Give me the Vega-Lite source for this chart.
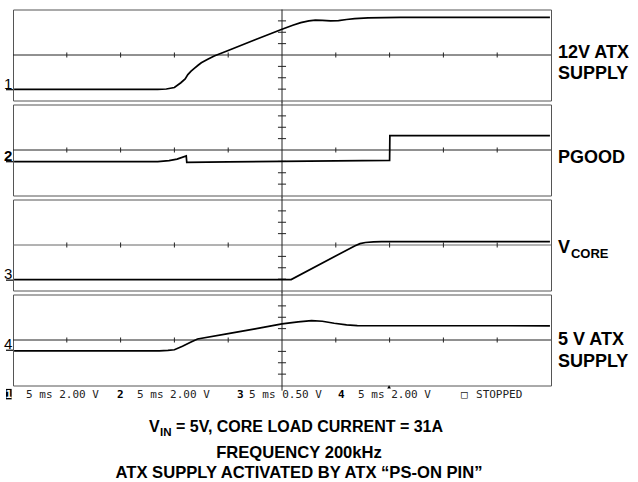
{
  "$schema": "https://vega.github.io/schema/vega-lite/v6.json",
  "padding": {"left": 3, "top": 8.5, "right": 0, "bottom": 0},
  "background": "#ffffff",
  "bounds": "flush",
  "spacing": 4,
  "config": {"view": {"stroke": "#555555", "strokeWidth": 1}},
  "datasets": {
    "xticks": [{"t": -4}, {"t": -3}, {"t": -2}, {"t": -1}, {"t": 1}, {"t": 2}, {"t": 3}, {"t": 4}],
    "yticks": [{"v": -3}, {"v": -2}, {"v": -1}, {"v": 1}, {"v": 2}, {"v": 3}],
    "markers": [
      {"ch": 1, "label": "1", "ground": -3.05},
      {"ch": 2, "label": "2", "ground": -1.03},
      {"ch": 3, "label": "3", "ground": -3.09},
      {"ch": 4, "label": "4", "ground": -0.9}
    ],
    "trace": [
      {"ch": 1, "t": -4.98, "v": -3.03}, {"ch": 1, "t": -2.31, "v": -3.03}, {"ch": 1, "t": -2.15, "v": -2.99},
      {"ch": 1, "t": -2.0, "v": -2.86}, {"ch": 1, "t": -1.88, "v": -2.44}, {"ch": 1, "t": -1.8, "v": -2.1},
      {"ch": 1, "t": -1.75, "v": -1.72}, {"ch": 1, "t": -1.69, "v": -1.42}, {"ch": 1, "t": -1.63, "v": -1.17},
      {"ch": 1, "t": -1.56, "v": -0.9}, {"ch": 1, "t": -1.5, "v": -0.68}, {"ch": 1, "t": -1.38, "v": -0.38},
      {"ch": 1, "t": -1.26, "v": -0.09}, {"ch": 1, "t": -1.0, "v": 0.4}, {"ch": 1, "t": -0.5, "v": 1.34},
      {"ch": 1, "t": 0.0, "v": 2.27}, {"ch": 1, "t": 0.2, "v": 2.62}, {"ch": 1, "t": 0.35, "v": 2.85},
      {"ch": 1, "t": 0.5, "v": 3.0}, {"ch": 1, "t": 0.62, "v": 3.07}, {"ch": 1, "t": 0.75, "v": 3.05},
      {"ch": 1, "t": 0.9, "v": 3.0}, {"ch": 1, "t": 1.05, "v": 3.02}, {"ch": 1, "t": 1.2, "v": 3.12},
      {"ch": 1, "t": 1.35, "v": 3.2}, {"ch": 1, "t": 1.6, "v": 3.27}, {"ch": 1, "t": 2.2, "v": 3.3},
      {"ch": 1, "t": 4.98, "v": 3.3},
      {"ch": 2, "t": -4.98, "v": -1.03}, {"ch": 2, "t": -2.31, "v": -1.03}, {"ch": 2, "t": -2.1, "v": -0.93},
      {"ch": 2, "t": -1.95, "v": -0.8}, {"ch": 2, "t": -1.78, "v": -0.52}, {"ch": 2, "t": -1.77, "v": -1.08},
      {"ch": 2, "t": -1.0, "v": -1.04}, {"ch": 2, "t": 0.0, "v": -1.0}, {"ch": 2, "t": 1.0, "v": -0.96},
      {"ch": 2, "t": 2.0, "v": -0.92}, {"ch": 2, "t": 2.005, "v": 1.26}, {"ch": 2, "t": 4.98, "v": 1.26},
      {"ch": 3, "t": -4.98, "v": -3.04}, {"ch": 3, "t": 0.17, "v": -3.04}, {"ch": 3, "t": 1.35, "v": -0.08},
      {"ch": 3, "t": 1.45, "v": 0.12}, {"ch": 3, "t": 1.55, "v": 0.22}, {"ch": 3, "t": 1.7, "v": 0.27},
      {"ch": 3, "t": 1.85, "v": 0.3}, {"ch": 3, "t": 4.98, "v": 0.3},
      {"ch": 4, "t": -4.98, "v": -0.95}, {"ch": 4, "t": -2.28, "v": -0.95}, {"ch": 4, "t": -2.12, "v": -0.92},
      {"ch": 4, "t": -2.0, "v": -0.86}, {"ch": 4, "t": -1.85, "v": -0.55}, {"ch": 4, "t": -1.7, "v": -0.2},
      {"ch": 4, "t": -1.57, "v": 0.09}, {"ch": 4, "t": -1.0, "v": 0.56}, {"ch": 4, "t": -0.5, "v": 0.98},
      {"ch": 4, "t": 0.0, "v": 1.41}, {"ch": 4, "t": 0.3, "v": 1.6}, {"ch": 4, "t": 0.55, "v": 1.7},
      {"ch": 4, "t": 0.75, "v": 1.65}, {"ch": 4, "t": 0.97, "v": 1.47}, {"ch": 4, "t": 1.2, "v": 1.33},
      {"ch": 4, "t": 1.4, "v": 1.26}, {"ch": 4, "t": 4.98, "v": 1.25}
    ]
  },
  "vconcat": [
    {
      "width": 538, "height": 91,
      "layer": [
        {"data": {"values": [{}]}, "mark": {"type": "rule", "color": "#222222", "strokeWidth": 1},
         "encoding": {"x": {"datum": -5, "type": "quantitative", "scale": {"domain": [-5, 5], "nice": false}, "axis": null}, "x2": {"datum": 5},
                      "y": {"datum": 0, "type": "quantitative", "scale": {"domain": [-4, 4], "nice": false}, "axis": null}}},
        {"data": {"values": [{}]}, "mark": {"type": "rule", "color": "#222222", "strokeWidth": 1},
         "encoding": {"x": {"datum": 0, "type": "quantitative", "scale": {"domain": [-5, 5], "nice": false}, "axis": null},
                      "y": {"datum": -4.2, "type": "quantitative", "scale": {"domain": [-4, 4], "nice": false}, "axis": null}, "y2": {"datum": 4}}},
        {"data": {"name": "xticks"}, "mark": {"type": "rule", "color": "#222222", "strokeWidth": 1},
         "encoding": {"x": {"field": "t", "type": "quantitative", "scale": {"domain": [-5, 5], "nice": false}, "axis": null},
                      "y": {"datum": -0.22, "type": "quantitative", "scale": {"domain": [-4, 4], "nice": false}, "axis": null}, "y2": {"datum": 0.22}}},
        {"data": {"name": "yticks"}, "mark": {"type": "rule", "color": "#222222", "strokeWidth": 1},
         "encoding": {"y": {"field": "v", "type": "quantitative", "scale": {"domain": [-4, 4], "nice": false}, "axis": null},
                      "x": {"datum": -0.075, "type": "quantitative", "scale": {"domain": [-5, 5], "nice": false}, "axis": null}, "x2": {"datum": 0.075}}},
        {"data": {"name": "trace"}, "transform": [{"filter": "datum.ch == 1"}], "mark": {"type": "line", "color": "#000000", "strokeWidth": 1.7},
         "encoding": {"x": {"field": "t", "type": "quantitative", "scale": {"domain": [-5, 5], "nice": false}, "axis": null},
                      "y": {"field": "v", "type": "quantitative", "scale": {"domain": [-4, 4], "nice": false}, "axis": null}}},
        {"data": {"name": "markers"}, "transform": [{"filter": "datum.ch == 1"}], "mark": {"type": "rule", "color": "#000000", "strokeWidth": 1.2},
         "encoding": {"x": {"datum": -5.13, "type": "quantitative", "scale": {"domain": [-5, 5], "nice": false}, "axis": null}, "x2": {"datum": -5},
                      "y": {"field": "ground", "type": "quantitative", "scale": {"domain": [-4, 4], "nice": false}, "axis": null}}},
        {"data": {"name": "markers"}, "transform": [{"filter": "datum.ch == 1"}], "mark": {"type": "text", "align": "right", "baseline": "alphabetic", "dy": -1, "font": "Liberation Sans", "fontSize": 15, "color": "#000000"},
         "encoding": {"x": {"datum": -5.01, "type": "quantitative", "scale": {"domain": [-5, 5], "nice": false}, "axis": null},
                      "y": {"field": "ground", "type": "quantitative", "scale": {"domain": [-4, 4], "nice": false}, "axis": null}, "text": {"field": "label"}}},
        {"data": {"values": [{"label": "12V ATX|SUPPLY"}]}, "mark": {"type": "text", "align": "left", "baseline": "alphabetic", "font": "Liberation Sans", "fontWeight": "bold", "fontSize": 18, "lineBreak": "|", "lineHeight": 21, "color": "#000000"},
         "encoding": {"x": {"datum": 5.13, "type": "quantitative", "scale": {"domain": [-5, 5], "nice": false}, "axis": null},
                      "y": {"datum": -0.22, "type": "quantitative", "scale": {"domain": [-4, 4], "nice": false}, "axis": null}, "text": {"field": "label"}}}
      ]
    },
    {
      "width": 538, "height": 91,
      "layer": [
        {"data": {"values": [{}]}, "mark": {"type": "rule", "color": "#222222", "strokeWidth": 1},
         "encoding": {"x": {"datum": -5, "type": "quantitative", "scale": {"domain": [-5, 5], "nice": false}, "axis": null}, "x2": {"datum": 5},
                      "y": {"datum": 0, "type": "quantitative", "scale": {"domain": [-4, 4], "nice": false}, "axis": null}}},
        {"data": {"values": [{}]}, "mark": {"type": "rule", "color": "#222222", "strokeWidth": 1},
         "encoding": {"x": {"datum": 0, "type": "quantitative", "scale": {"domain": [-5, 5], "nice": false}, "axis": null},
                      "y": {"datum": -4.2, "type": "quantitative", "scale": {"domain": [-4, 4], "nice": false}, "axis": null}, "y2": {"datum": 4.2}}},
        {"data": {"name": "xticks"}, "mark": {"type": "rule", "color": "#222222", "strokeWidth": 1},
         "encoding": {"x": {"field": "t", "type": "quantitative", "scale": {"domain": [-5, 5], "nice": false}, "axis": null},
                      "y": {"datum": -0.22, "type": "quantitative", "scale": {"domain": [-4, 4], "nice": false}, "axis": null}, "y2": {"datum": 0.22}}},
        {"data": {"name": "yticks"}, "mark": {"type": "rule", "color": "#222222", "strokeWidth": 1},
         "encoding": {"y": {"field": "v", "type": "quantitative", "scale": {"domain": [-4, 4], "nice": false}, "axis": null},
                      "x": {"datum": -0.075, "type": "quantitative", "scale": {"domain": [-5, 5], "nice": false}, "axis": null}, "x2": {"datum": 0.075}}},
        {"data": {"name": "trace"}, "transform": [{"filter": "datum.ch == 2"}], "mark": {"type": "line", "color": "#000000", "strokeWidth": 1.7},
         "encoding": {"x": {"field": "t", "type": "quantitative", "scale": {"domain": [-5, 5], "nice": false}, "axis": null},
                      "y": {"field": "v", "type": "quantitative", "scale": {"domain": [-4, 4], "nice": false}, "axis": null}}},
        {"data": {"name": "markers"}, "transform": [{"filter": "datum.ch == 2"}], "mark": {"type": "rule", "color": "#000000", "strokeWidth": 1.2},
         "encoding": {"x": {"datum": -5.13, "type": "quantitative", "scale": {"domain": [-5, 5], "nice": false}, "axis": null}, "x2": {"datum": -5},
                      "y": {"field": "ground", "type": "quantitative", "scale": {"domain": [-4, 4], "nice": false}, "axis": null}}},
        {"data": {"name": "markers"}, "transform": [{"filter": "datum.ch == 2"}], "mark": {"type": "text", "align": "right", "baseline": "alphabetic", "dy": -1, "font": "Liberation Sans", "fontSize": 15, "fontWeight": "bold", "color": "#000000"},
         "encoding": {"x": {"datum": -5.01, "type": "quantitative", "scale": {"domain": [-5, 5], "nice": false}, "axis": null},
                      "y": {"field": "ground", "type": "quantitative", "scale": {"domain": [-4, 4], "nice": false}, "axis": null}, "text": {"field": "label"}}},
        {"data": {"values": [{"label": "PGOOD"}]}, "mark": {"type": "text", "align": "left", "baseline": "alphabetic", "font": "Liberation Sans", "fontWeight": "bold", "fontSize": 18, "color": "#000000"},
         "encoding": {"x": {"datum": 5.13, "type": "quantitative", "scale": {"domain": [-5, 5], "nice": false}, "axis": null},
                      "y": {"datum": -1.1, "type": "quantitative", "scale": {"domain": [-4, 4], "nice": false}, "axis": null}, "text": {"field": "label"}}}
      ]
    },
    {
      "width": 538, "height": 91,
      "layer": [
        {"data": {"values": [{}]}, "mark": {"type": "rule", "color": "#666666", "strokeWidth": 1},
         "encoding": {"x": {"datum": -5, "type": "quantitative", "scale": {"domain": [-5, 5], "nice": false}, "axis": null}, "x2": {"datum": 5},
                      "y": {"datum": 0, "type": "quantitative", "scale": {"domain": [-4, 4], "nice": false}, "axis": null}}},
        {"data": {"values": [{}]}, "mark": {"type": "rule", "color": "#222222", "strokeWidth": 1},
         "encoding": {"x": {"datum": 0, "type": "quantitative", "scale": {"domain": [-5, 5], "nice": false}, "axis": null},
                      "y": {"datum": -4.2, "type": "quantitative", "scale": {"domain": [-4, 4], "nice": false}, "axis": null}, "y2": {"datum": 4.2}}},
        {"data": {"name": "xticks"}, "mark": {"type": "rule", "color": "#222222", "strokeWidth": 1},
         "encoding": {"x": {"field": "t", "type": "quantitative", "scale": {"domain": [-5, 5], "nice": false}, "axis": null},
                      "y": {"datum": -0.22, "type": "quantitative", "scale": {"domain": [-4, 4], "nice": false}, "axis": null}, "y2": {"datum": 0.22}}},
        {"data": {"name": "yticks"}, "mark": {"type": "rule", "color": "#222222", "strokeWidth": 1},
         "encoding": {"y": {"field": "v", "type": "quantitative", "scale": {"domain": [-4, 4], "nice": false}, "axis": null},
                      "x": {"datum": -0.075, "type": "quantitative", "scale": {"domain": [-5, 5], "nice": false}, "axis": null}, "x2": {"datum": 0.075}}},
        {"data": {"name": "trace"}, "transform": [{"filter": "datum.ch == 3"}], "mark": {"type": "line", "color": "#000000", "strokeWidth": 1.7},
         "encoding": {"x": {"field": "t", "type": "quantitative", "scale": {"domain": [-5, 5], "nice": false}, "axis": null},
                      "y": {"field": "v", "type": "quantitative", "scale": {"domain": [-4, 4], "nice": false}, "axis": null}}},
        {"data": {"name": "markers"}, "transform": [{"filter": "datum.ch == 3"}], "mark": {"type": "rule", "color": "#000000", "strokeWidth": 1.2},
         "encoding": {"x": {"datum": -5.13, "type": "quantitative", "scale": {"domain": [-5, 5], "nice": false}, "axis": null}, "x2": {"datum": -5},
                      "y": {"field": "ground", "type": "quantitative", "scale": {"domain": [-4, 4], "nice": false}, "axis": null}}},
        {"data": {"name": "markers"}, "transform": [{"filter": "datum.ch == 3"}], "mark": {"type": "text", "align": "right", "baseline": "alphabetic", "dy": -1, "font": "Liberation Sans", "fontSize": 15, "color": "#000000"},
         "encoding": {"x": {"datum": -5.01, "type": "quantitative", "scale": {"domain": [-5, 5], "nice": false}, "axis": null},
                      "y": {"field": "ground", "type": "quantitative", "scale": {"domain": [-4, 4], "nice": false}, "axis": null}, "text": {"field": "label"}}},
        {"data": {"values": [{"label": "V"}]}, "mark": {"type": "text", "align": "left", "baseline": "alphabetic", "font": "Liberation Sans", "fontWeight": "bold", "fontSize": 18, "color": "#000000"},
         "encoding": {"x": {"datum": 5.13, "type": "quantitative", "scale": {"domain": [-5, 5], "nice": false}, "axis": null},
                      "y": {"datum": -0.66, "type": "quantitative", "scale": {"domain": [-4, 4], "nice": false}, "axis": null}, "text": {"field": "label"}}},
        {"data": {"values": [{"label": "CORE"}]}, "mark": {"type": "text", "align": "left", "baseline": "alphabetic", "font": "Liberation Sans", "fontWeight": "bold", "fontSize": 13, "color": "#000000"},
         "encoding": {"x": {"datum": 5.37, "type": "quantitative", "scale": {"domain": [-5, 5], "nice": false}, "axis": null},
                      "y": {"datum": -1.1, "type": "quantitative", "scale": {"domain": [-4, 4], "nice": false}, "axis": null}, "text": {"field": "label"}}}
      ]
    },
    {
      "width": 538, "height": 91,
      "layer": [
        {"data": {"values": [{}]}, "mark": {"type": "rule", "color": "#222222", "strokeWidth": 1},
         "encoding": {"x": {"datum": -5, "type": "quantitative", "scale": {"domain": [-5, 5], "nice": false}, "axis": null}, "x2": {"datum": 5},
                      "y": {"datum": 0, "type": "quantitative", "scale": {"domain": [-4, 4], "nice": false}, "axis": null}}},
        {"data": {"values": [{}]}, "mark": {"type": "rule", "color": "#222222", "strokeWidth": 1},
         "encoding": {"x": {"datum": 0, "type": "quantitative", "scale": {"domain": [-5, 5], "nice": false}, "axis": null},
                      "y": {"datum": -4.45, "type": "quantitative", "scale": {"domain": [-4, 4], "nice": false}, "axis": null}, "y2": {"datum": 4.2}}},
        {"data": {"name": "xticks"}, "mark": {"type": "rule", "color": "#222222", "strokeWidth": 1},
         "encoding": {"x": {"field": "t", "type": "quantitative", "scale": {"domain": [-5, 5], "nice": false}, "axis": null},
                      "y": {"datum": -0.22, "type": "quantitative", "scale": {"domain": [-4, 4], "nice": false}, "axis": null}, "y2": {"datum": 0.22}}},
        {"data": {"name": "yticks"}, "mark": {"type": "rule", "color": "#222222", "strokeWidth": 1},
         "encoding": {"y": {"field": "v", "type": "quantitative", "scale": {"domain": [-4, 4], "nice": false}, "axis": null},
                      "x": {"datum": -0.075, "type": "quantitative", "scale": {"domain": [-5, 5], "nice": false}, "axis": null}, "x2": {"datum": 0.075}}},
        {"data": {"name": "trace"}, "transform": [{"filter": "datum.ch == 4"}], "mark": {"type": "line", "color": "#000000", "strokeWidth": 1.7},
         "encoding": {"x": {"field": "t", "type": "quantitative", "scale": {"domain": [-5, 5], "nice": false}, "axis": null},
                      "y": {"field": "v", "type": "quantitative", "scale": {"domain": [-4, 4], "nice": false}, "axis": null}}},
        {"data": {"name": "markers"}, "transform": [{"filter": "datum.ch == 4"}], "mark": {"type": "rule", "color": "#000000", "strokeWidth": 1.2},
         "encoding": {"x": {"datum": -5.13, "type": "quantitative", "scale": {"domain": [-5, 5], "nice": false}, "axis": null}, "x2": {"datum": -5},
                      "y": {"field": "ground", "type": "quantitative", "scale": {"domain": [-4, 4], "nice": false}, "axis": null}}},
        {"data": {"name": "markers"}, "transform": [{"filter": "datum.ch == 4"}], "mark": {"type": "text", "align": "right", "baseline": "alphabetic", "dy": -1, "font": "Liberation Sans", "fontSize": 15, "color": "#000000"},
         "encoding": {"x": {"datum": -5.01, "type": "quantitative", "scale": {"domain": [-5, 5], "nice": false}, "axis": null},
                      "y": {"field": "ground", "type": "quantitative", "scale": {"domain": [-4, 4], "nice": false}, "axis": null}, "text": {"field": "label"}}},
        {"data": {"values": [{"label": "5 V ATX|SUPPLY"}]}, "mark": {"type": "text", "align": "left", "baseline": "alphabetic", "font": "Liberation Sans", "fontWeight": "bold", "fontSize": 18, "lineBreak": "|", "lineHeight": 21.7, "color": "#000000"},
         "encoding": {"x": {"datum": 5.13, "type": "quantitative", "scale": {"domain": [-5, 5], "nice": false}, "axis": null},
                      "y": {"datum": -0.48, "type": "quantitative", "scale": {"domain": [-4, 4], "nice": false}, "axis": null}, "text": {"field": "label"}}},
        {"data": {"values": [{}]}, "mark": {"type": "rect", "color": "#000000"},
         "encoding": {"x": {"datum": -5.13, "type": "quantitative", "scale": {"domain": [-5, 5], "nice": false}, "axis": null}, "x2": {"datum": -5.025},
                      "y": {"datum": -4.3, "type": "quantitative", "scale": {"domain": [-4, 4], "nice": false}, "axis": null}, "y2": {"datum": -5.22}}},
        {"data": {"values": [{"label": "1"}]}, "mark": {"type": "text", "align": "center", "baseline": "alphabetic", "font": "DejaVu Sans Mono", "fontWeight": "bold", "fontSize": 11, "color": "#ffffff"},
         "encoding": {"x": {"datum": -5.078, "type": "quantitative", "scale": {"domain": [-5, 5], "nice": false}, "axis": null},
                      "y": {"datum": -5.14, "type": "quantitative", "scale": {"domain": [-4, 4], "nice": false}, "axis": null}, "text": {"field": "label"}}},
        {"data": {"values": [{"label": "5 ms 2.00 V"}]}, "mark": {"type": "text", "align": "left", "baseline": "alphabetic", "font": "DejaVu Sans Mono", "fontSize": 11, "color": "#222222"},
         "encoding": {"x": {"datum": -4.758, "type": "quantitative", "scale": {"domain": [-5, 5], "nice": false}, "axis": null},
                      "y": {"datum": -5.14, "type": "quantitative", "scale": {"domain": [-4, 4], "nice": false}, "axis": null}, "text": {"field": "label"}}},
        {"data": {"values": [{"label": "2"}]}, "mark": {"type": "text", "align": "left", "baseline": "alphabetic", "font": "DejaVu Sans Mono", "fontWeight": "bold", "fontSize": 11, "color": "#000000"},
         "encoding": {"x": {"datum": -3.067, "type": "quantitative", "scale": {"domain": [-5, 5], "nice": false}, "axis": null},
                      "y": {"datum": -5.14, "type": "quantitative", "scale": {"domain": [-4, 4], "nice": false}, "axis": null}, "text": {"field": "label"}}},
        {"data": {"values": [{"label": "5 ms 2.00 V"}]}, "mark": {"type": "text", "align": "left", "baseline": "alphabetic", "font": "DejaVu Sans Mono", "fontSize": 11, "color": "#222222"},
         "encoding": {"x": {"datum": -2.695, "type": "quantitative", "scale": {"domain": [-5, 5], "nice": false}, "axis": null},
                      "y": {"datum": -5.14, "type": "quantitative", "scale": {"domain": [-4, 4], "nice": false}, "axis": null}, "text": {"field": "label"}}},
        {"data": {"values": [{"label": "3"}]}, "mark": {"type": "text", "align": "left", "baseline": "alphabetic", "font": "DejaVu Sans Mono", "fontWeight": "bold", "fontSize": 11, "color": "#000000"},
         "encoding": {"x": {"datum": -0.836, "type": "quantitative", "scale": {"domain": [-5, 5], "nice": false}, "axis": null},
                      "y": {"datum": -5.14, "type": "quantitative", "scale": {"domain": [-4, 4], "nice": false}, "axis": null}, "text": {"field": "label"}}},
        {"data": {"values": [{"label": "5 ms 0.50 V"}]}, "mark": {"type": "text", "align": "left", "baseline": "alphabetic", "font": "DejaVu Sans Mono", "fontSize": 11, "color": "#222222"},
         "encoding": {"x": {"datum": -0.613, "type": "quantitative", "scale": {"domain": [-5, 5], "nice": false}, "axis": null},
                      "y": {"datum": -5.14, "type": "quantitative", "scale": {"domain": [-4, 4], "nice": false}, "axis": null}, "text": {"field": "label"}}},
        {"data": {"values": [{"label": "4"}]}, "mark": {"type": "text", "align": "left", "baseline": "alphabetic", "font": "DejaVu Sans Mono", "fontWeight": "bold", "fontSize": 11, "color": "#000000"},
         "encoding": {"x": {"datum": 1.041, "type": "quantitative", "scale": {"domain": [-5, 5], "nice": false}, "axis": null},
                      "y": {"datum": -5.14, "type": "quantitative", "scale": {"domain": [-4, 4], "nice": false}, "axis": null}, "text": {"field": "label"}}},
        {"data": {"values": [{"label": "5 ms 2.00 V"}]}, "mark": {"type": "text", "align": "left", "baseline": "alphabetic", "font": "DejaVu Sans Mono", "fontSize": 11, "color": "#222222"},
         "encoding": {"x": {"datum": 1.413, "type": "quantitative", "scale": {"domain": [-5, 5], "nice": false}, "axis": null},
                      "y": {"datum": -5.14, "type": "quantitative", "scale": {"domain": [-4, 4], "nice": false}, "axis": null}, "text": {"field": "label"}}},
        {"data": {"values": [{"label": "\u25a1"}]}, "mark": {"type": "text", "align": "left", "baseline": "alphabetic", "font": "DejaVu Sans Mono", "fontSize": 11, "color": "#222222"},
         "encoding": {"x": {"datum": 3.327, "type": "quantitative", "scale": {"domain": [-5, 5], "nice": false}, "axis": null},
                      "y": {"datum": -5.14, "type": "quantitative", "scale": {"domain": [-4, 4], "nice": false}, "axis": null}, "text": {"field": "label"}}},
        {"data": {"values": [{"label": "STOPPED"}]}, "mark": {"type": "text", "align": "left", "baseline": "alphabetic", "font": "DejaVu Sans Mono", "fontSize": 11, "color": "#222222"},
         "encoding": {"x": {"datum": 3.606, "type": "quantitative", "scale": {"domain": [-5, 5], "nice": false}, "axis": null},
                      "y": {"datum": -5.14, "type": "quantitative", "scale": {"domain": [-4, 4], "nice": false}, "axis": null}, "text": {"field": "label"}}},
        {"data": {"values": [{}]}, "mark": {"type": "point", "shape": "triangle-up", "filled": true, "size": 14, "color": "#000000", "opacity": 1},
         "encoding": {"x": {"datum": 1.99, "type": "quantitative", "scale": {"domain": [-5, 5], "nice": false}, "axis": null},
                      "y": {"datum": -4.12, "type": "quantitative", "scale": {"domain": [-4, 4], "nice": false}, "axis": null}}},
        {"data": {"values": [{"label": "V"}]}, "mark": {"type": "text", "align": "left", "baseline": "alphabetic", "font": "Liberation Sans", "fontWeight": "bold", "fontSize": 16, "color": "#000000"},
         "encoding": {"x": {"datum": -2.472, "type": "quantitative", "scale": {"domain": [-5, 5], "nice": false}, "axis": null},
                      "y": {"datum": -8.09, "type": "quantitative", "scale": {"domain": [-4, 4], "nice": false}, "axis": null}, "text": {"field": "label"}}},
        {"data": {"values": [{"label": "IN"}]}, "mark": {"type": "text", "align": "left", "baseline": "alphabetic", "font": "Liberation Sans", "fontWeight": "bold", "fontSize": 11.5, "color": "#000000"},
         "encoding": {"x": {"datum": -2.268, "type": "quantitative", "scale": {"domain": [-5, 5], "nice": false}, "axis": null},
                      "y": {"datum": -8.44, "type": "quantitative", "scale": {"domain": [-4, 4], "nice": false}, "axis": null}, "text": {"field": "label"}}},
        {"data": {"values": [{"label": "= 5V, CORE LOAD CURRENT = 31A"}]}, "mark": {"type": "text", "align": "left", "baseline": "alphabetic", "font": "Liberation Sans", "fontWeight": "bold", "fontSize": 16, "color": "#000000"},
         "encoding": {"x": {"datum": -1.97, "type": "quantitative", "scale": {"domain": [-5, 5], "nice": false}, "axis": null},
                      "y": {"datum": -8.09, "type": "quantitative", "scale": {"domain": [-4, 4], "nice": false}, "axis": null}, "text": {"field": "label"}}},
        {"data": {"values": [{"label": "FREQUENCY 200kHz"}]}, "mark": {"type": "text", "align": "center", "baseline": "alphabetic", "font": "Liberation Sans", "fontWeight": "bold", "fontSize": 16.6, "color": "#000000"},
         "encoding": {"x": {"datum": 0.316, "type": "quantitative", "scale": {"domain": [-5, 5], "nice": false}, "axis": null},
                      "y": {"datum": -10.33, "type": "quantitative", "scale": {"domain": [-4, 4], "nice": false}, "axis": null}, "text": {"field": "label"}}},
        {"data": {"values": [{"label": "ATX SUPPLY ACTIVATED BY ATX \u201cPS-ON PIN\u201d"}]}, "mark": {"type": "text", "align": "center", "baseline": "alphabetic", "font": "Liberation Sans", "fontWeight": "bold", "fontSize": 16.6, "color": "#000000"},
         "encoding": {"x": {"datum": 0.316, "type": "quantitative", "scale": {"domain": [-5, 5], "nice": false}, "axis": null},
                      "y": {"datum": -12.09, "type": "quantitative", "scale": {"domain": [-4, 4], "nice": false}, "axis": null}, "text": {"field": "label"}}}
      ]
    }
  ]
}
